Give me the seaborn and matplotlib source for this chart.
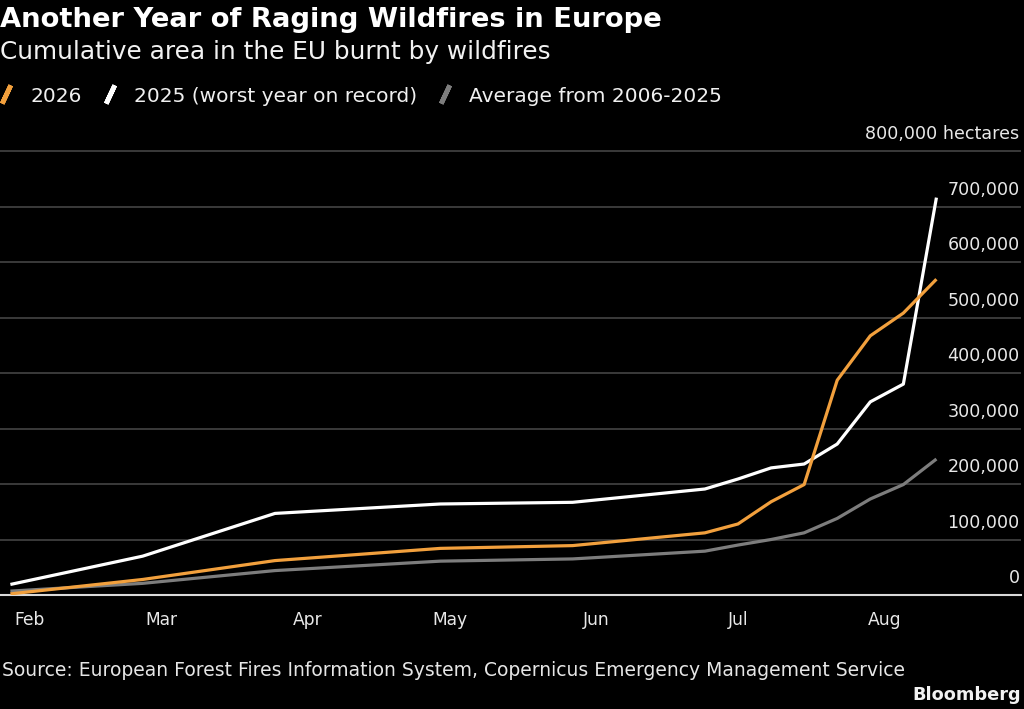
import matplotlib
matplotlib.use("Agg")
import matplotlib.pyplot as plt
import matplotlib.dates as mdates
from matplotlib.lines import Line2D
import seaborn as sns
import pandas as pd

# ---- data (hectares) ----
dates = ["2026-01-28", "2026-02-25", "2026-03-25", "2026-04-29", "2026-05-27",
         "2026-06-24", "2026-07-01", "2026-07-08", "2026-07-15", "2026-07-22",
         "2026-07-29", "2026-08-05", "2026-08-12"]
area_2026 = [2000, 28000, 62000, 84000, 89000, 112000, 128000, 168000, 199000,
             387000, 467000, 508000, 569000]
area_2025 = [19000, 70000, 147000, 164000, 167000, 191000, 209000, 229000, 236000,
             272000, 348000, 380000, 716000]
area_avg = [7000, 21000, 44000, 61000, 65000, 79000, 90000, 100000, 112000,
            138000, 173000, 199000, 245000]

series_names = ["2026", "2025 (worst year on record)", "Average from 2006-2025"]
series_colors = ["#F2A03D", "#FFFFFF", "#7d7d7d"]
y_ticks = [0, 100000, 200000, 300000, 400000, 500000, 600000, 700000, 800000]
month_ticks = ["2026-02-01", "2026-03-01", "2026-04-01", "2026-05-01",
               "2026-06-01", "2026-07-01", "2026-08-01"]

title = "Another Year of Raging Wildfires in Europe"
subtitle = "Cumulative area in the EU burnt by wildfires"
source = "Source: European Forest Fires Information System, Copernicus Emergency Management Service"

df = pd.concat([
    pd.DataFrame({"date": pd.to_datetime(dates), "area": vals, "series": name})
    for name, vals in zip(series_names, [area_2026, area_2025, area_avg])
], ignore_index=True)

sns.set_style("dark")
plt.rcParams["font.family"] = ["DejaVu Sans"]

W, H = 1024, 709
fig = plt.figure(figsize=(W / 100, H / 100), dpi=100, facecolor="black")
y0_px, y800_px = 595, 151
ymax = 805000
ax_h = (y0_px - y800_px) * ymax / 800000
ax = fig.add_axes([0, (H - y0_px) / H, 1021 / W, ax_h / H])
ax.set_facecolor("black")

palette = dict(zip(series_names, series_colors))
draw_order = [series_names[2], series_names[1], series_names[0]]
for name in draw_order:
    sub = df[df["series"] == name]
    sns.lineplot(data=sub, x="date", y="area", color=palette[name], lw=2.3,
                 ax=ax, legend=False, solid_joinstyle="round",
                 solid_capstyle="butt", zorder=3)

feb1 = pd.Timestamp("2026-02-01")
ax.set_xlim(feb1 - pd.Timedelta(days=6.2), feb1 + pd.Timedelta(days=209.9))
ax.set_ylim(0, ymax)

ax.set_yticks(y_ticks)
ax.yaxis.grid(True, color="#4a4a4a", lw=1.1)
ax.xaxis.grid(False)
ax.tick_params(axis="y", length=0, labelleft=False)
for v in y_ticks:
    lab = f"{v:,}" + (" hectares" if v == 800000 else "")
    ax.annotate(lab, xy=(1, v), xycoords=("axes fraction", "data"),
                xytext=(-1, 8.3), textcoords="offset points",
                ha="right", va="baseline", fontsize=12.6, color="#e8e8e8",
                annotation_clip=False)

ax.set_xticks(pd.to_datetime(month_ticks))
ax.xaxis.set_major_formatter(mdates.DateFormatter("%b"))
ax.tick_params(axis="x", length=6.5, width=1.2, color="#cccccc",
               labelcolor="#e8e8e8", labelsize=12.3, pad=5)
ax.set_xlabel("")
ax.set_ylabel("")
for s in ["top", "left", "right"]:
    ax.spines[s].set_visible(False)
ax.spines["bottom"].set_color("#d9d9d9")
ax.spines["bottom"].set_linewidth(1.5)
ax.spines["bottom"].set_zorder(2)

# legend
handles = [Line2D([], [], linestyle="none", marker=(2, 2, -25), markersize=14.5,
                  markeredgewidth=3.4, color=c) for c in series_colors]
fig.legend(handles, series_names, loc="center left",
           bbox_to_anchor=(0, 1 - 96 / H), ncol=3, frameon=False,
           fontsize=14.5, labelcolor="#f0f0f0", handlelength=0.6,
           handletextpad=0.9, columnspacing=1.1, borderaxespad=0, borderpad=0)

fig.text(0, 1 - 26.7 / H, title, fontsize=19.7, fontweight="bold",
         color="white", va="baseline", ha="left")
fig.text(0, 1 - 58.5 / H, subtitle, fontsize=17.8, color="#f2f2f2",
         va="baseline", ha="left")
fig.text(2 / W, 1 - 675.5 / H, source, fontsize=13.5, color="#e6e6e6",
         va="baseline", ha="left")
fig.text(1021 / W, 1 - 700 / H, "Bloomberg", fontsize=12.8, fontweight="bold",
         color="#f2f2f2", va="baseline", ha="right")

fig.savefig("out.png", dpi=100, facecolor="black")
